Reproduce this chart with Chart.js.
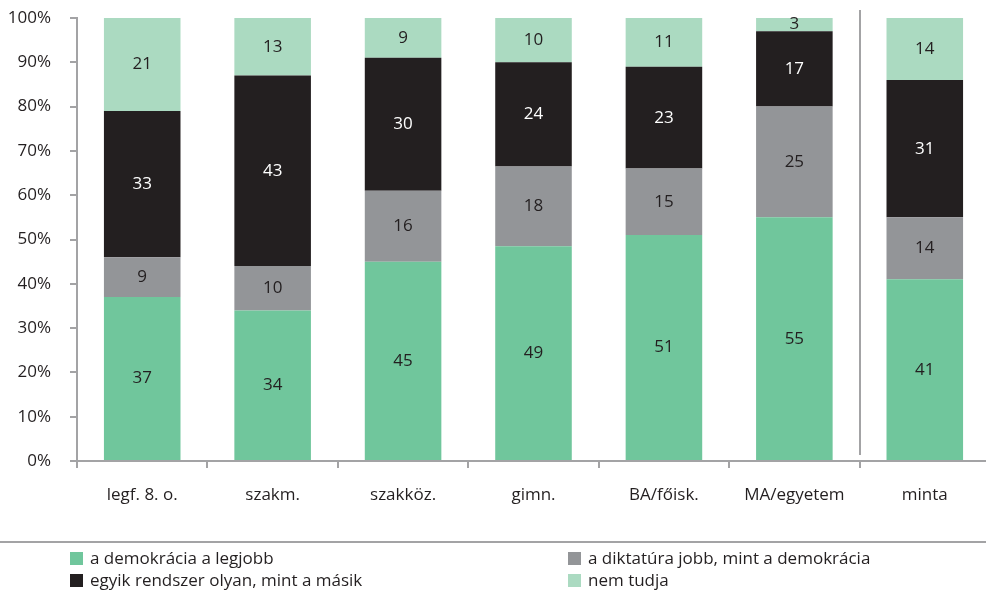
<!DOCTYPE html>
<html>
<head>
<meta charset="utf-8">
<script src="https://cdn.jsdelivr.net/npm/chart.js@4.4.1/dist/chart.umd.min.js"></script>
<style>
  html, body { margin: 0; padding: 0; background: #fff; overflow: hidden; }
  #wrap { width: 986px; height: 594px; overflow: hidden; }
</style>
</head>
<body>
<div id="wrap"><canvas id="chart" width="990" height="594"></canvas></div>
<script>
// categories and series
const categories = ["legf. 8. o.", "szakm.", "szakköz.", "gimn.", "BA/főisk.", "MA/egyetem", "minta"]
const demokracia = [37, 34, 45, 48.5, 51, 55, 41]
const diktatura = [9, 10, 16, 18, 15, 25, 14]
const egyik = [33, 43, 30, 23.5, 23, 17, 31]
const nemTudja = [21, 13, 9, 10, 11, 3, 14]
const yTicks = [0, 10, 20, 30, 40, 50, 60, 70, 80, 90, 100]

const FONT = "'Open Sans', 'Liberation Sans', sans-serif"
const AXIS_GRAY = "#a3a3a5"
const TEXT = "#231f20"

const series = [
    { label: "a demokrácia a legjobb", data: demokracia, color: "#70c69c", text: TEXT },
    { label: "a diktatúra jobb, mint a demokrácia", data: diktatura, color: "#939598", text: TEXT },
    { label: "egyik rendszer olyan, mint a másik", data: egyik, color: "#231f20", text: "#ffffff" },
    { label: "nem tudja", data: nemTudja, color: "#abdac1", text: TEXT },
]

// value labels in the middle of each segment
const segmentLabels = {
    id: "segmentLabels",
    afterDatasetsDraw(chart) {
        const ctx = chart.ctx
        ctx.save()
        ctx.font = "17px " + FONT
        ctx.textAlign = "center"
        ctx.textBaseline = "middle"
        chart.data.datasets.forEach((ds, i) => {
            const meta = chart.getDatasetMeta(i)
            meta.data.forEach((bar, j) => {
                const mid = (bar.y + bar.base) / 2
                ctx.fillStyle = series[i].text
                ctx.fillText(String(Math.round(ds.data[j])), bar.x, mid)
            })
        })
        ctx.restore()
    }
}

// separator before "minta" and the legend below a rule
const extras = {
    id: "extras",
    afterDraw(chart) {
        const ctx = chart.ctx
        const x = chart.scales.x
        const area = chart.chartArea
        ctx.save()
        const sepX = Math.round((x.getPixelForValue(5) + x.getPixelForValue(6)) / 2)
        ctx.strokeStyle = AXIS_GRAY
        ctx.lineWidth = 2
        ctx.beginPath()
        ctx.moveTo(sepX, 10)
        ctx.lineTo(sepX, area.bottom - 6)
        ctx.stroke()

        // legend rule
        ctx.beginPath()
        ctx.moveTo(0, 542)
        ctx.lineTo(chart.width, 542)
        ctx.stroke()

        // legend in two columns
        const cols = [70, 568]
        const rows = [558, 580]
        const order = [[0, 0, 0], [1, 1, 0], [2, 0, 1], [3, 1, 1]]
        ctx.font = "17px " + FONT
        ctx.textBaseline = "middle"
        ctx.textAlign = "left"
        order.forEach(([s, c, r]) => {
            ctx.fillStyle = series[s].color
            ctx.fillRect(cols[c], rows[r] - 6, 13, 13)
            ctx.fillStyle = TEXT
            ctx.fillText(series[s].label, cols[c] + 20, rows[r] + 1)
        })
        ctx.restore()
    }
}

new Chart(document.getElementById("chart"), {
    type: "bar",
    data: {
        labels: categories,
        datasets: series.map(s => ({
            label: s.label,
            data: s.data,
            backgroundColor: s.color,
            borderWidth: 0,
            barPercentage: 0.587,
            categoryPercentage: 1.0,
        })),
    },
    options: {
        responsive: false,
        animation: false,
        layout: { padding: { top: 18, right: 0, left: 0, bottom: 0 } },
        plugins: {
            legend: { display: false },
            tooltip: { enabled: false },
        },
        scales: {
            x: {
                stacked: true,
                grid: { drawOnChartArea: false, drawTicks: true, tickLength: 7, color: AXIS_GRAY, lineWidth: 2, offset: true },
                border: { display: true, color: AXIS_GRAY, width: 2 },
                ticks: { font: { family: FONT, size: 17 }, color: TEXT, padding: 17, maxRotation: 0 },
                afterFit: (scale) => {
                    scale.height = 133
                    scale.paddingLeft = 0
                    scale.paddingRight = 0
                },
            },
            y: {
                stacked: true,
                min: 0,
                max: 100,
                afterBuildTicks: (scale) => { scale.ticks = yTicks.map(v => ({ value: v })) },
                grid: { drawOnChartArea: false, drawTicks: true, tickLength: 7, color: AXIS_GRAY, lineWidth: 2 },
                border: { display: true, color: AXIS_GRAY, width: 2 },
                ticks: { font: { family: FONT, size: 17 }, color: TEXT, padding: 19, callback: v => v + "%" },
                afterFit: (scale) => {
                    scale.width = 77
                    scale.paddingTop = 0
                    scale.paddingBottom = 0
                },
            },
        },
    },
    plugins: [segmentLabels, extras],
})
</script>
</body>
</html>
